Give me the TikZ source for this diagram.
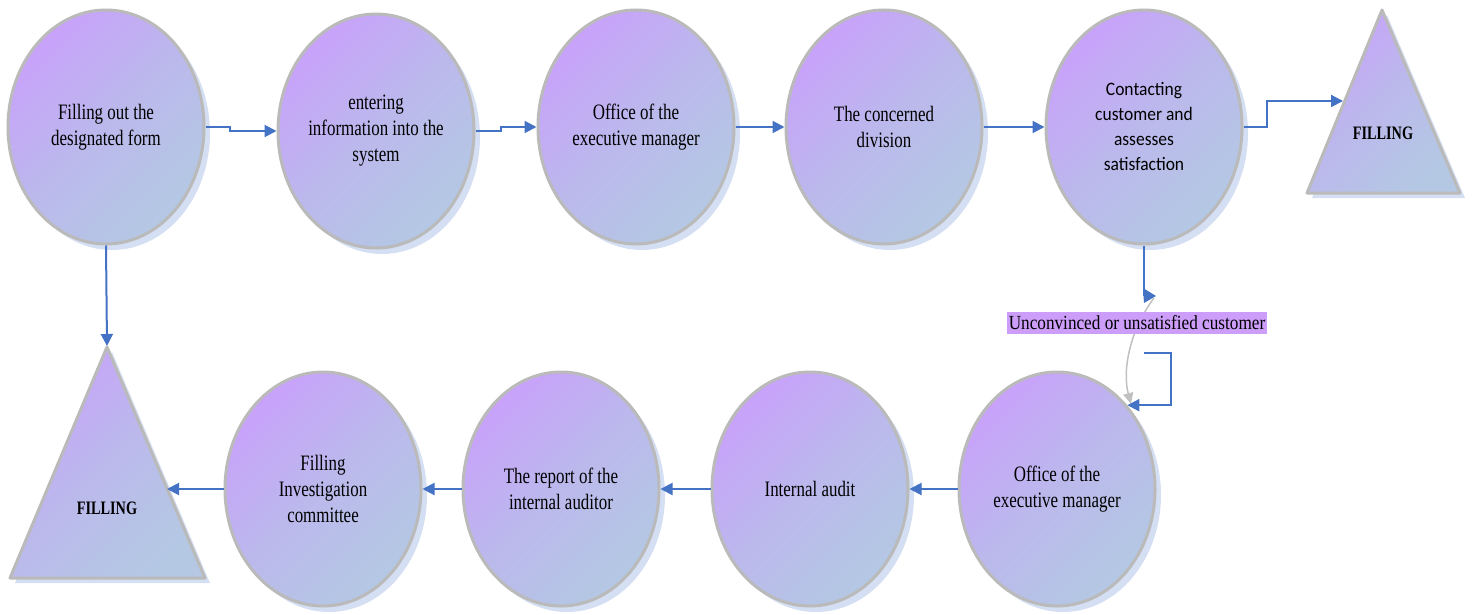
\documentclass[tikz,border=0pt]{standalone}
\usepackage{fontspec}
\setmainfont{Liberation Serif}
\newfontfamily\condserif[FakeStretch=0.77]{Liberation Serif}
\newfontfamily\labserif[FakeStretch=0.86]{Liberation Serif}
\newfontfamily\calib[FakeStretch=0.92]{Carlito}
\newfontfamily\fillfont[FakeStretch=0.75]{Liberation Serif}
\usetikzlibrary{shapes.geometric,arrows.meta,shadows}
\definecolor{purC}{RGB}{200,162,250}
\definecolor{bluC}{RGB}{180,200,228}
\definecolor{midC}{RGB}{187,185,236}
\definecolor{edgeC}{RGB}{186,186,186}
\definecolor{lineC}{RGB}{68,114,196}
\definecolor{shadC}{RGB}{150,175,225}
\definecolor{labC}{RGB}{204,158,250}
\definecolor{curveC}{RGB}{192,192,192}
\tikzset{
  bub/.style={ellipse, minimum width=196pt, minimum height=234pt, inner sep=0pt,
    draw=edgeC, line width=3pt, top color=purC, bottom color=bluC, middle color=midC,
    shading angle=45, align=center, text=black,
    font=\condserif\fontsize{22}{26}\selectfont,
    general shadow={shadow xshift=6pt, shadow yshift=-6pt, fill=shadC, opacity=0.4}},
  sbub/.style={bub, font=\calib\fontsize{19}{25}\selectfont},
  tri/.style={draw=edgeC, line width=3pt, line join=round, top color=purC, bottom color=bluC,
    middle color=midC, shading angle=45,
    general shadow={shadow xshift=5pt, shadow yshift=-5pt, fill=shadC, opacity=0.4}},
  tritext/.style={font=\fillfont\bfseries\fontsize{19}{22}\selectfont, inner sep=1pt},
  conn/.style={draw=lineC, line width=2pt, -{Triangle[length=12pt,width=12pt]}},
  plain/.style={draw=lineC, line width=2pt},
  lab/.style={fill=labC, inner xsep=2pt, inner ysep=4pt, font=\labserif\fontsize{20}{24}\selectfont},
  gcurve/.style={draw=curveC, line width=1.5pt, -{Triangle[length=11pt,width=10pt]}}
}
\begin{document}
\begin{tikzpicture}[x=1pt,y=-1pt]
\useasboundingbox (0,0) rectangle (1477,615);
% top row
\node[bub] (e1) at (106,127) {Filling out the\\designated form};
\node[bub] (e2) at (376,131) {entering\\information into the\\system};
\node[bub] (e3) at (636,127) {Office of the\\executive manager};
\node[bub] (e4) at (884,127) {The concerned\\division};
\node[sbub] (e5) at (1144,127) {Contacting\\customer and\\assesses\\satisfaction};
% top-right triangle
\path[tri] (1382,10) -- (1307,193) -- (1460,193) -- cycle;
\node[tritext] (f1) at (1383,133) {FILLING};
\coordinate (t1in) at (1343,101);
% bottom row
\node[bub] (e6) at (1057,489) {Office of the\\executive manager};
\node[bub] (e7) at (810,489) {Internal audit};
\node[bub] (e8) at (561,489) {The report of the\\internal auditor};
\node[bub] (e9) at (323,489) {Filling\\Investigation\\committee};
% bottom-left triangle
\path[tri] (107,347) -- (10,578) -- (205,578) -- cycle;
\node[tritext] (f2) at (107,508) {FILLING};
\coordinate (t2top) at (107,346);
\coordinate (t2in) at (167,489);
% top connectors
\draw[conn] (e1.east) -- ++(24,0) |- (e2.west);
\draw[conn] (e2.east) -- ++(25,0) |- (e3.west);
\draw[conn] (e3.east) -- (e4.west);
\draw[conn] (e4.east) -- (e5.west);
\draw[conn] (e5.east) -- ++(23,0) |- (t1in);
\draw[conn] (e1.south) -- (t2top);
% down from e5 with odd tip
\coordinate (d5) at (1144,296);
\draw[plain] (e5.south) -- (d5);
\fill[lineC] (1143,288) -- (1156,296) -- (1144,303) -- cycle;
% gray curve
\coordinate (g1) at (1154,298);
\coordinate (g2) at (1131,404);
\draw[gcurve] (g1) .. controls (1130,330) and (1122,370) .. (g2);
% label (drawn over the curve)
\node[lab] (lbl) at (1137,323) {Unconvinced or unsatisfied customer};
% blue bracket
\coordinate (b1) at (1144,353);
\draw[conn] (b1) -- ++(27,0) |- (e6.50);
% bottom connectors
\draw[conn] (e6.west) -- (e7.east);
\draw[conn] (e7.west) -- (e8.east);
\draw[conn] (e8.west) -- (e9.east);
\draw[conn] (e9.west) -- (t2in);
\end{tikzpicture}
\end{document}
